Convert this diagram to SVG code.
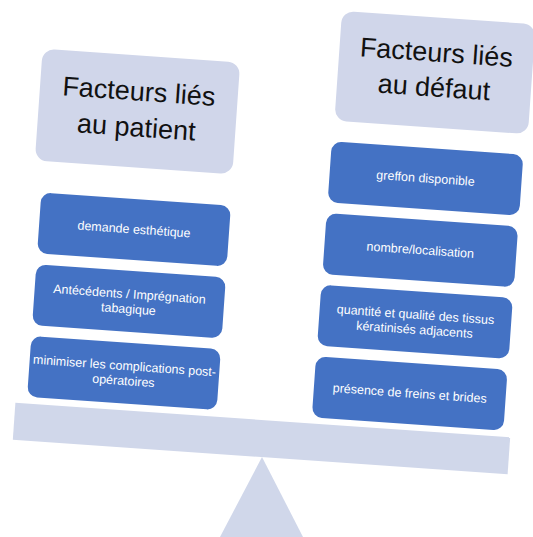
<svg xmlns="http://www.w3.org/2000/svg" width="533" height="537" viewBox="0 0 533 537">
  <style>
    .scale { fill: #D0D7EA; }
    .head rect { fill: #D0D6EA; }
    .head text { font-family: "Liberation Sans", Arial, sans-serif; font-size: 27px; fill: #111111; text-anchor: middle; }
    .item rect { fill: #4472C4; }
    .item text { font-family: "Liberation Sans", Arial, sans-serif; font-size: 12.5px; fill: #FFFFFF; text-anchor: middle; }
  </style>

  <!-- balance: fulcrum and beam -->
  <g id="fulcrum">
    <polygon class="scale" points="262,457 220,537 303,537"/>
  </g>
  <g id="beam" transform="translate(261.5,438.5) rotate(4)">
    <rect class="scale" x="-248" y="-18.5" width="496" height="37"/>
  </g>

  <!-- left pan: patient factors -->
  <g id="patient-header" class="head" transform="translate(137.5,111.5) rotate(4)">
    <rect x="-99" y="-56" width="198" height="112" rx="12"/>
    <text x="0" y="-11">Facteurs liés</text>
    <text x="0" y="25">au patient</text>
  </g>
  <g id="demande-esthetique" class="item" transform="translate(134,229.5) rotate(4)">
    <rect x="-95" y="-30.5" width="190" height="61" rx="10"/>
    <text x="0" y="4">demande esthétique</text>
  </g>
  <g id="antecedents" class="item" transform="translate(129,301.3) rotate(4)">
    <rect x="-95" y="-30.5" width="190" height="61" rx="10"/>
    <text x="0" y="-3">Antécédents / Imprégnation</text>
    <text x="0" y="12">tabagique</text>
  </g>
  <g id="complications" class="item" transform="translate(124,373) rotate(4)">
    <rect x="-95" y="-30.5" width="190" height="61" rx="10"/>
    <text x="0" y="-3">minimiser les complications post-</text>
    <text x="0" y="12">opératoires</text>
  </g>

  <!-- right pan: defect factors -->
  <g id="defaut-header" class="head" transform="translate(435,72.5) rotate(4)">
    <rect x="-97" y="-55" width="194" height="110" rx="12"/>
    <text x="0" y="-11">Facteurs liés</text>
    <text x="0" y="24">au défaut</text>
  </g>
  <g id="greffon" class="item" transform="translate(425.5,178.5) rotate(4)">
    <rect x="-96" y="-30.5" width="192" height="61" rx="10"/>
    <text x="0" y="4">greffon disponible</text>
  </g>
  <g id="nombre" class="item" transform="translate(420.3,250.2) rotate(4)">
    <rect x="-96" y="-30.5" width="192" height="61" rx="10"/>
    <text x="0" y="4">nombre/localisation</text>
  </g>
  <g id="tissus" class="item" transform="translate(415,321.8) rotate(4)">
    <rect x="-96" y="-30.5" width="192" height="61" rx="10"/>
    <text x="0" y="-3">quantité et qualité des tissus</text>
    <text x="0" y="12">kératinisés adjacents</text>
  </g>
  <g id="freins" class="item" transform="translate(409.7,393.5) rotate(4)">
    <rect x="-96" y="-30.5" width="192" height="61" rx="10"/>
    <text x="0" y="4">présence de freins et brides</text>
  </g>
</svg>
